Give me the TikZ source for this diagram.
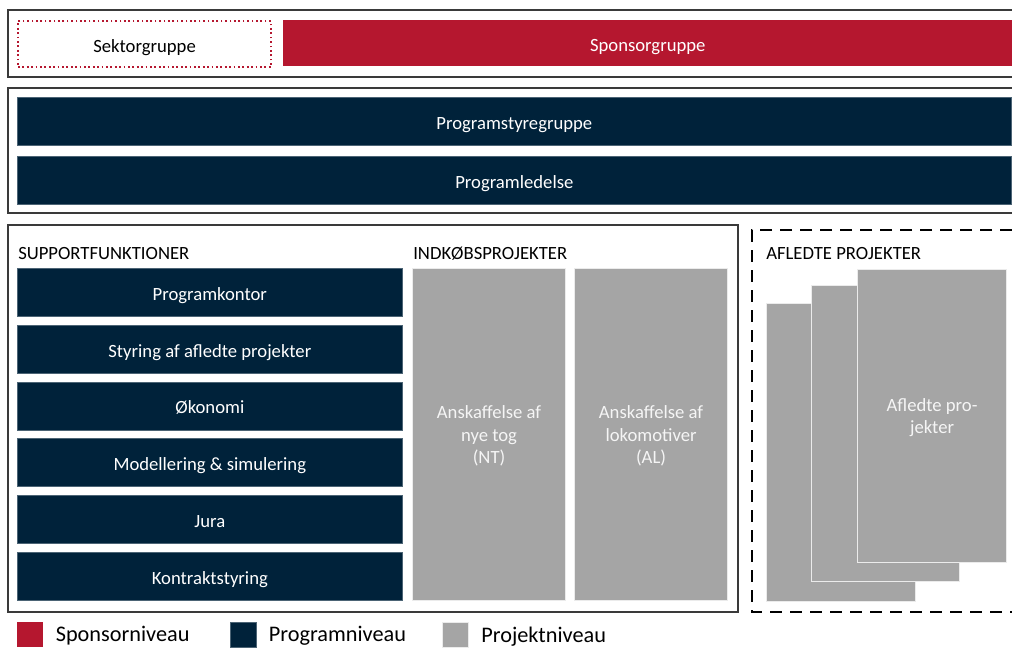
\documentclass[tikz,border=0pt]{standalone}
\usepackage{fontspec}
\setmainfont{Carlito}
\usetikzlibrary{positioning}
\definecolor{sponsorred}{HTML}{B5172F}
\definecolor{programblue}{HTML}{00223A}
\definecolor{projectgray}{HTML}{A5A5A5}
\definecolor{framegray}{HTML}{3A3A3A}
\tikzset{
  box/.style 2 args={anchor=north west, inner sep=0pt, minimum width=#1*0.75pt, minimum height=#2*0.75pt},
  oneline/.style={text height=12pt, text depth=0pt},
  sponsorbox/.style={fill=sponsorred, text=white},
  programbox/.style={fill=programblue, draw=programblue!70!white, line width=0.5pt, text=white},
  projectbox/.style={fill=projectgray, draw=white!92!black, line width=0.8pt, text=white!96!black, align=center, text depth=0pt},
  frameline/.style={draw=framegray, line width=0.9pt},
  heading/.style={anchor=west, inner sep=0pt, font=\fontsize{14}{16}\selectfont},
  legendtext/.style={anchor=west, inner sep=0pt, font=\fontsize{16.7}{19}\selectfont, yshift=-1pt}
}
\begin{document}
\begin{tikzpicture}[x=0.75pt, y=-0.75pt, font=\fontsize{14}{17.2}\selectfont]
  \useasboundingbox (0,0) rectangle (1012,653);
  % sponsorniveau
  \draw[frameline] (1012,10) -- (8,10) -- (8,77) -- (1012,77);
  \node[box={253}{46}, oneline, draw=sponsorred, line width=1.6pt, dash pattern=on 1.3pt off 2pt] (sektor) at (17,20) {Sektorgruppe};
  \node[box={729}{46}, oneline, sponsorbox] (sponsor) at (283,20) {Sponsorgruppe};
  % programniveau
  \draw[frameline] (1012,88) -- (8,88) -- (8,213) -- (1012,213);
  \node[box={994}{48}, oneline, programbox] (styregruppe) at (17,97) {Programstyregruppe};
  \node[box={994}{48}, oneline, programbox] (ledelse) at (17,156) {Programledelse};
  % supportfunktioner og indkoebsprojekter
  \draw[frameline] (8,225) rectangle (738,612);
  \node[heading] (support) at (18,254) {SUPPORTFUNKTIONER};
  \foreach \name [count=\i] in {Programkontor, Styring af afledte projekter, Økonomi, Modellering \& simulering, Jura, Kontraktstyring}
    \node[box={385}{48}, oneline, programbox] (sup\i) at (17,{268+(\i-1)*56.8}) {\name};
  \node[heading] (indkob) at (413,254) {INDKØBSPROJEKTER};
  \node[box={153}{332}, projectbox] (nt) at (412,268) {Anskaffelse af\\nye tog\\(NT)};
  \node[box={153}{332}, projectbox] (al) at (574,268) {Anskaffelse af\\lokomotiver\\(AL)};
  % afledte projekter
  \draw[black, line width=2.2pt, dash pattern=on 9pt off 6pt] (1012,230) -- (752,230) -- (752,612) -- (1012,612);
  \node[heading] (afledte) at (766,254) {AFLEDTE PROJEKTER};
  \node[box={149}{298}, projectbox] (afl1) at (766,303) {};
  \node[box={148}{296}, projectbox] (afl2) at (811,285) {};
  \node[box={149}{293}, projectbox] (afl3) at (857,269) {Afledte pro-\\jekter};
  % signaturforklaring
  \node[box={26}{25}, sponsorbox] (legsponsor) at (17,622) {};
  \node[legendtext, right=12*0.75pt of legsponsor] {Sponsorniveau};
  \node[box={26}{25}, programbox] (legprogram) at (230,622) {};
  \node[legendtext, right=12*0.75pt of legprogram] {Programniveau};
  \node[box={26}{25}, projectbox] (legprojekt) at (442,622) {};
  \node[legendtext, right=12*0.75pt of legprojekt] {Projektniveau};
\end{tikzpicture}
\end{document}
